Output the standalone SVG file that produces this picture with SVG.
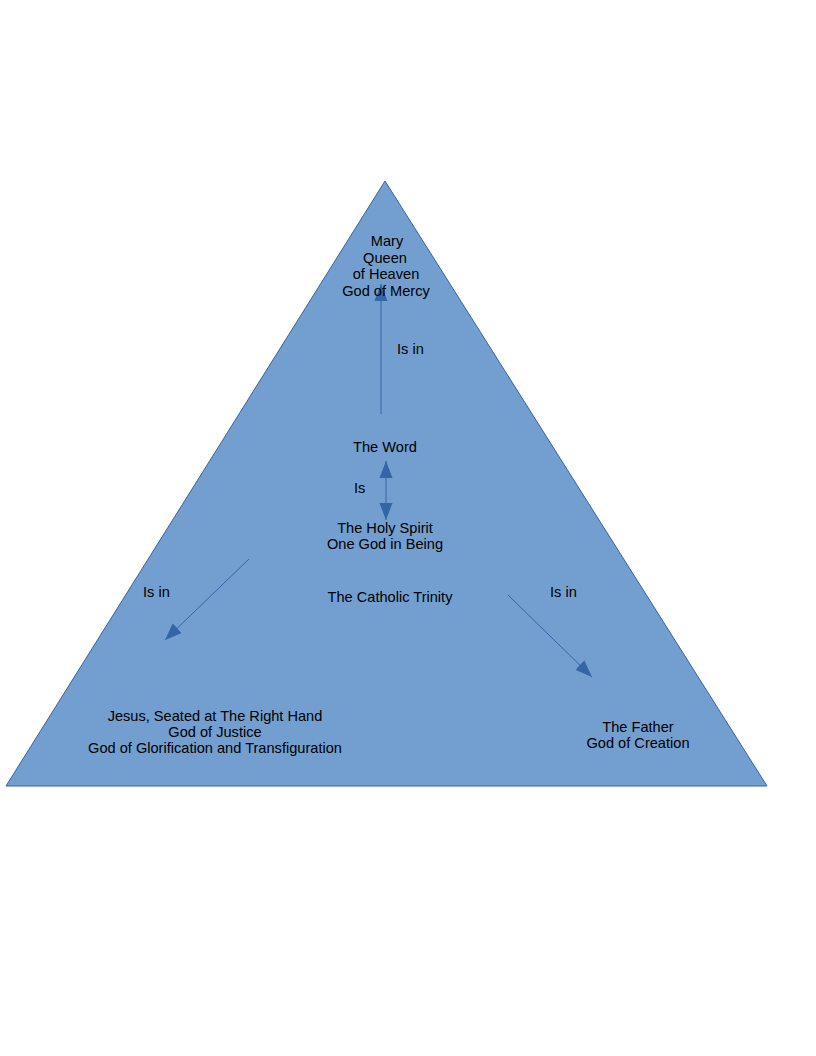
<svg xmlns="http://www.w3.org/2000/svg" width="816" height="1056" viewBox="0 0 816 1056">
<style>
text{font-family:"Liberation Sans",Arial,sans-serif;font-size:14.6px;fill:#000}
.c{text-anchor:middle}
.conn line{stroke:#3465a4;stroke-width:1}
</style>
<defs>
<marker id="ah" markerWidth="18" markerHeight="14" refX="17" refY="7" orient="auto" markerUnits="userSpaceOnUse">
<path d="M0,0.5 L17,7 L0,13.5 Z" fill="#3465a4"/>
</marker>
<marker id="as" markerWidth="18" markerHeight="14" refX="0" refY="7" orient="auto" markerUnits="userSpaceOnUse">
<path d="M17,0.5 L0,7 L17,13.5 Z" fill="#3465a4"/>
</marker>
</defs>
<g id="triangle">
<polygon points="385,181 767,786 6,786" fill="#729fcf" stroke="#3465a4" stroke-width="1"/>
</g>
<g class="conn" id="connectors">
<line x1="381" y1="414" x2="381" y2="284" marker-end="url(#ah)"/>
<line x1="386" y1="461" x2="386" y2="520" marker-start="url(#as)" marker-end="url(#ah)"/>
<line x1="249" y1="559" x2="165" y2="640" marker-end="url(#ah)"/>
<line x1="508" y1="595" x2="592" y2="677" marker-end="url(#ah)"/>
</g>
<g id="mary">
<text class="c" x="387" y="246">Mary</text>
<text class="c" x="385" y="263">Queen</text>
<text class="c" x="386" y="279">of Heaven</text>
<text class="c" x="386" y="296">God of Mercy</text>
</g>
<g id="label-isin-top"><text x="397" y="354">Is in</text></g>
<g id="word"><text class="c" x="385" y="452">The Word</text></g>
<g id="label-is"><text x="354" y="493">Is</text></g>
<g id="spirit">
<text class="c" x="385" y="533">The Holy Spirit</text>
<text class="c" x="385" y="549">One God in Being</text>
</g>
<g id="trinity"><text class="c" x="390" y="602">The Catholic Trinity</text></g>
<g id="label-isin-left"><text x="143" y="597">Is in</text></g>
<g id="label-isin-right"><text x="550" y="597">Is in</text></g>
<g id="jesus">
<text class="c" x="215" y="721">Jesus, Seated at The Right Hand</text>
<text class="c" x="215" y="737">God of Justice</text>
<text class="c" x="215" y="753">God of Glorification and Transfiguration</text>
</g>
<g id="father">
<text class="c" x="638" y="732">The Father</text>
<text class="c" x="638" y="748">God of Creation</text>
</g>
</svg>
